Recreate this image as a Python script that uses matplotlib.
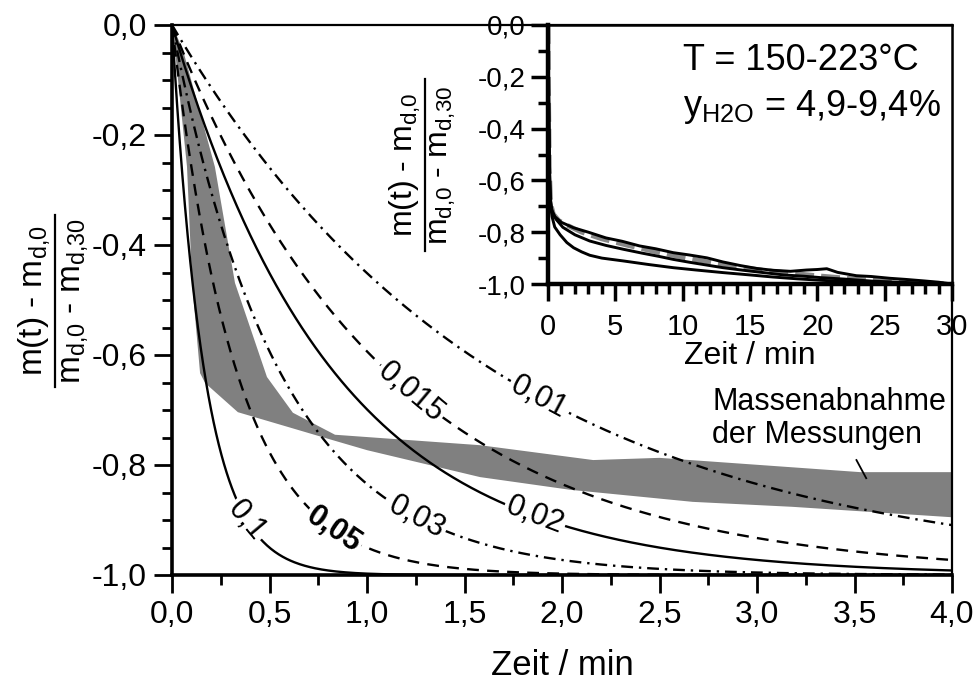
import numpy as np
import matplotlib
matplotlib.use("Agg")
import matplotlib.pyplot as plt
from matplotlib.lines import Line2D
from matplotlib.ticker import MultipleLocator, FuncFormatter

plt.rcParams['font.family'] = ['Liberation Sans', 'DejaVu Sans']
plt.rcParams['mathtext.fontset'] = 'custom'
plt.rcParams['mathtext.rm'] = 'Liberation Sans'
plt.rcParams['mathtext.it'] = 'Liberation Sans'
plt.rcParams['mathtext.bf'] = 'Liberation Sans:bold'

# ---- model curves: first-order drying, rate constant k in 1/s ----
rate_constants = [0.1, 0.05, 0.03, 0.02, 0.015, 0.01]
rate_labels = ['0,1', '0,05', '0,03', '0,02', '0,015', '0,01']
rate_styles = ['solid', 'dashed', 'dashdot', 'solid', 'dashed', 'dashdot']
rate_bold = [False, True, False, False, False, False]
label_times = [0.385, 0.83, 1.255, 1.86, 1.225, 1.88]   # min
label_angles = [-50, -34, -28, -21, -40, -28]

# ---- measured mass-decrease band ----
band_upper_t = [0.0, 0.056, 0.22, 0.323, 0.487, 0.62, 0.836, 1.58, 2.16, 2.50, 3.53, 4.0]
band_upper_y = [0.0, -0.045, -0.258, -0.469, -0.64, -0.705, -0.745, -0.764, -0.791, -0.787, -0.813, -0.813]
band_lower_t = [0.0, 0.015, 0.077, 0.103, 0.144, 0.17, 0.338, 0.826, 1.0, 1.58, 2.04, 2.67, 3.18, 4.0]
band_lower_y = [0.0, -0.045, -0.258, -0.469, -0.633, -0.651, -0.704, -0.755, -0.773, -0.822, -0.845, -0.867, -0.876, -0.895]

# ---- inset: measured runs over 30 min ----
run_a_t = [0, 0.05, 0.1, 0.15, 0.25, 0.5, 1.0, 1.9, 3.0, 4.3, 5.5, 6.8, 8.0, 9.3, 10.5, 11.8, 13.0,
           14.3, 15.5, 16.7, 18.0, 19.2, 20.0, 20.7, 21.5, 22.9, 24.0, 25.4, 26.5, 27.9, 29.0, 30.0]
run_a_y = [0, -0.25, -0.5, -0.66, -0.71, -0.74, -0.762, -0.783, -0.80, -0.822, -0.835, -0.853, -0.864,
           -0.879, -0.888, -0.899, -0.915, -0.929, -0.94, -0.947, -0.951, -0.946, -0.944, -0.941, -0.955,
           -0.968, -0.971, -0.978, -0.982, -0.988, -0.993, -1.0]
run_b_t = [0, 0.05, 0.1, 0.2, 0.4, 0.8, 1.5, 2.5, 4.0, 6.0, 8.0, 10.0, 12.0, 14.0, 16.0, 18.0, 20.0,
           22.5, 25.0, 27.5, 30.0]
run_b_y = [0, -0.3, -0.55, -0.69, -0.73, -0.755, -0.775, -0.80, -0.826, -0.852, -0.876, -0.897, -0.916,
           -0.933, -0.947, -0.958, -0.968, -0.979, -0.989, -0.995, -1.0]
run_c_t = [0, 0.05, 0.1, 0.2, 0.3, 0.6, 1.1, 2.0, 3.1, 4.3, 5.6, 7.0, 8.2, 9.3, 10.5, 11.8, 13.0, 14.5,
           16.0, 17.5, 19.0, 20.4, 22.0, 24.1, 26.0, 28.0, 30.0]
run_c_y = [0, -0.3, -0.55, -0.68, -0.72, -0.75, -0.781, -0.81, -0.834, -0.851, -0.866, -0.881, -0.893,
           -0.905, -0.916, -0.927, -0.937, -0.947, -0.956, -0.965, -0.970, -0.976, -0.981, -0.989,
           -0.993, -0.997, -1.0]
run_d_t = [0, 0.05, 0.1, 0.2, 0.3, 0.5, 0.9, 1.4, 1.9, 2.5, 3.1, 4.0, 5.6, 7.5, 9.3, 11.0, 13.0, 15.0,
           16.7, 18.5, 20.4, 22.0, 24.1, 27.0, 30.0]
run_d_y = [0, -0.35, -0.6, -0.7, -0.74, -0.78, -0.81, -0.84, -0.86, -0.876, -0.889, -0.90, -0.911,
           -0.925, -0.937, -0.946, -0.956, -0.965, -0.973, -0.980, -0.986, -0.990, -0.995, -0.998, -1.0]

W, H = 974, 695
fig = plt.figure(figsize=(W / 100, H / 100), dpi=100)
ax = fig.add_axes([172 / W, 1 - 575 / H, 780 / W, 550 / H])

dash_styles = {'solid': '-', 'dashed': (0, (5, 3.5)), 'dashdot': (0, (5, 2.5, 1, 2.5))}

t = np.linspace(0, 4, 600)
for k, lab, st, bold, tl, ang in zip(rate_constants, rate_labels, rate_styles, rate_bold,
                                     label_times, label_angles):
    ax.plot(t, -(1 - np.exp(-k * 60 * t)), color='black', lw=1.7, ls=dash_styles[st], zorder=3)
    ax.text(tl, -(1 - np.exp(-k * 60 * tl)), lab, rotation=ang, rotation_mode='anchor',
            ha='center', va='center', fontsize=22, fontweight='bold' if bold else 'normal',
            bbox=dict(fc='white', ec='none', pad=1.5), zorder=5)

poly_t = np.r_[band_upper_t, band_lower_t[::-1]]
poly_y = np.r_[band_upper_y, band_lower_y[::-1]]
ax.fill(poly_t, poly_y, color='#808080', lw=0, zorder=2)

ax.text(2.77, -0.716, 'Massenabnahme\nder Messungen', fontsize=22, ha='left', va='center',
        linespacing=1.12, zorder=5)
ax.plot([3.51, 3.56], [-0.791, -0.824], color='black', lw=1.3, zorder=5)

ax.set_xlim(0, 4)
ax.set_ylim(-1, 0)
ax.xaxis.set_major_locator(MultipleLocator(0.5))
ax.xaxis.set_minor_locator(MultipleLocator(0.25))
ax.yaxis.set_major_locator(MultipleLocator(0.2))
ax.yaxis.set_minor_locator(MultipleLocator(0.05))


def comma1(v, p):
    if abs(v) < 1e-9:
        v = 0.0
    return f"{v:.1f}".replace('.', ',')


ax.xaxis.set_major_formatter(FuncFormatter(comma1))
ax.yaxis.set_major_formatter(FuncFormatter(comma1))
ax.tick_params(which='major', direction='out', length=13, width=2, labelsize=23, pad=5)
ax.tick_params(which='minor', direction='out', length=7, width=2)
ax.tick_params(top=False, right=False)
for s in ['left', 'bottom']:
    ax.spines[s].set_linewidth(2.6)
for s in ['top', 'right']:
    ax.spines[s].set_linewidth(1.6)
ax.set_xlabel('Zeit / min', fontsize=25, labelpad=14)

num_txt = r'm(t) - m$_{\mathrm{d{,}0}}$'
den_txt = r'm$_{\mathrm{d{,}0}}$ - m$_{\mathrm{d{,}30}}$'


def fraction_label(x_bar, y_mid, dx_num, dx_den, bar_len, size, lw):
    # rotated fraction: numerator left of the bar, denominator right of it (pixel coords)
    fig.text((x_bar - dx_num) / W, 1 - y_mid / H, num_txt, rotation=90, fontsize=size,
             ha='center', va='center')
    fig.text((x_bar + dx_den) / W, 1 - y_mid / H, den_txt, rotation=90, fontsize=size,
             ha='center', va='center')
    fig.add_artist(Line2D([x_bar / W, x_bar / W],
                          [1 - (y_mid - bar_len / 2) / H, 1 - (y_mid + bar_len / 2) / H],
                          transform=fig.transFigure, color='black', lw=lw))


fraction_label(55, 301, 21, 19, 172, 24, 1.6)

# ---- inset ----
ins = fig.add_axes([548 / W, 1 - 284 / H, 404 / W, 259 / H])
ins.plot(run_b_t, run_b_y, color='#888888', lw=3.4, ls=(0, (4, 1.5)), zorder=2)
for rt, ry in [(run_a_t, run_a_y), (run_c_t, run_c_y), (run_d_t, run_d_y)]:
    ins.plot(rt, ry, color='black', lw=2.1, zorder=3)
ins.set_xlim(0, 30)
ins.set_ylim(-1, 0)
ins.xaxis.set_major_locator(MultipleLocator(5))
ins.xaxis.set_minor_locator(MultipleLocator(1))
ins.yaxis.set_major_locator(MultipleLocator(0.2))
ins.yaxis.set_minor_locator(MultipleLocator(0.1))
ins.xaxis.set_major_formatter(FuncFormatter(lambda v, p: f"{v:.0f}"))
ins.yaxis.set_major_formatter(FuncFormatter(comma1))
ins.tick_params(axis='y', labelsize=20, pad=4)
ins.tick_params(axis='x', labelsize=21, pad=9)
ins.tick_params(which='major', direction='out', length=12, width=2.5)
ins.tick_params(which='minor', direction='out', length=7, width=2.5)
for s in ['left', 'bottom']:
    ins.spines[s].set_linewidth(3.2)
for s in ['top', 'right']:
    ins.spines[s].set_linewidth(1.8)
ins.set_xlabel('Zeit / min', fontsize=23, labelpad=0)
fraction_label(425, 165, 20, 18, 172, 23, 1.6)
ins.text(0.334, 0.826, 'T = 150-223°C', transform=ins.transAxes, fontsize=26, ha='left',
         va='baseline')
ins.text(0.334, 0.649, r'y$_{\mathrm{H2O}}$ = 4,9-9,4%', transform=ins.transAxes, fontsize=26,
         ha='left', va='baseline')

fig.savefig('out.png', dpi=100)
